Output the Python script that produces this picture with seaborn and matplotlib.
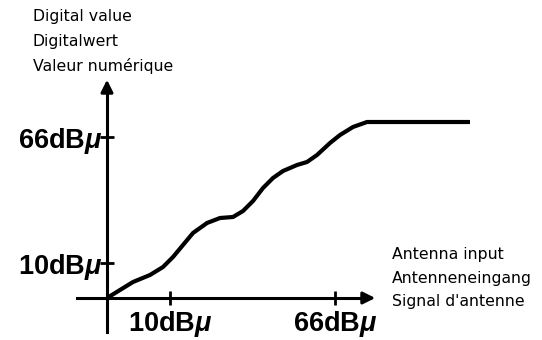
import pandas as pd
import matplotlib
matplotlib.use('Agg')
import matplotlib.pyplot as plt
import seaborn as sns

# curve (relative units from the origin)
antenna_input = [0, 13, 26, 43, 56, 66, 76, 86, 100, 113, 126, 136, 146,
                 156, 166, 176, 190, 200, 210, 223, 233, 246, 260, 363]
digital_value = [0, 8, 16, 23, 31, 41, 53, 65, 75, 80, 81, 87, 97,
                 110, 120, 127, 133, 136, 143, 155, 163, 171, 176, 176]

x_ticks = [63, 228]
x_tick_labels = ['10dB$\\mu$', '66dB$\\mu$']
y_ticks = [35, 161]
y_tick_labels = ['10dB$\\mu$', '66dB$\\mu$']

y_title = ['Digital value', 'Digitalwert', 'Valeur numérique']
x_title = ['Antenna input', 'Antenneneingang', "Signal d'antenne"]


def main():
    sns.set_style('white')
    plt.rcParams['mathtext.fontset'] = 'custom'
    plt.rcParams['mathtext.it'] = 'Liberation Sans:italic:bold'
    plt.rcParams['mathtext.rm'] = 'Liberation Sans:bold'
    plt.rcParams['text.color'] = 'black'
    plt.rcParams['xtick.color'] = 'black'
    plt.rcParams['ytick.color'] = 'black'

    fig = plt.figure(figsize=(5.42, 3.40), dpi=100)
    ax = fig.add_axes([0, 0, 1, 1])

    df = pd.DataFrame({'x': antenna_input, 'y': digital_value})
    sns.lineplot(data=df, x='x', y='y', sort=False, color='black',
                 linewidth=3.0, ax=ax)
    for line in ax.get_lines():
        line.set_solid_joinstyle('round')
        line.set_solid_capstyle('butt')

    ax.set_xlim(-107, 435)
    ax.set_ylim(-42, 298)
    ax.set_xlabel('')
    ax.set_ylabel('')

    # axes through the origin
    ax.spines['left'].set_position(('data', 0))
    ax.spines['bottom'].set_position(('data', 0))
    ax.spines['left'].set_bounds(-34, 212)
    ax.spines['bottom'].set_bounds(-30, 262)
    ax.spines['right'].set_visible(False)
    ax.spines['top'].set_visible(False)
    for s in ['left', 'bottom']:
        ax.spines[s].set_linewidth(2.2)
        ax.spines[s].set_color('black')

    ax.annotate('', xy=(0, 221), xytext=(0, 205),
                arrowprops=dict(arrowstyle='-|>', color='black', lw=2.2,
                                mutation_scale=18))
    ax.annotate('', xy=(271, 0), xytext=(255, 0),
                arrowprops=dict(arrowstyle='-|>', color='black', lw=2.2,
                                mutation_scale=18))

    ax.set_xticks(x_ticks)
    ax.set_xticklabels(x_tick_labels, fontsize=19.5, fontweight='bold',
                       family='Liberation Sans', color='black')
    ax.set_yticks(y_ticks)
    ax.set_yticklabels(y_tick_labels, fontsize=19.5, fontweight='bold',
                       family='Liberation Sans', color='black')
    ax.tick_params(axis='both', direction='inout', length=10, width=2,
                   color='black', bottom=True, left=True)
    ax.tick_params(axis='x', pad=3)
    ax.tick_params(axis='y', pad=-2)
    ax.grid(False)

    for i, t in enumerate(y_title):
        ax.text(-74, 277 - 25 * i, t, fontsize=11.3, family='DejaVu Sans',
                va='baseline', ha='left', color='black')
    for i, t in enumerate(x_title):
        ax.text(285, 39 - 23.5 * i, t, fontsize=11.3, family='DejaVu Sans',
                va='baseline', ha='left', color='black')

    fig.savefig('out.png', dpi=100, facecolor='white')


if __name__ == '__main__':
    main()
